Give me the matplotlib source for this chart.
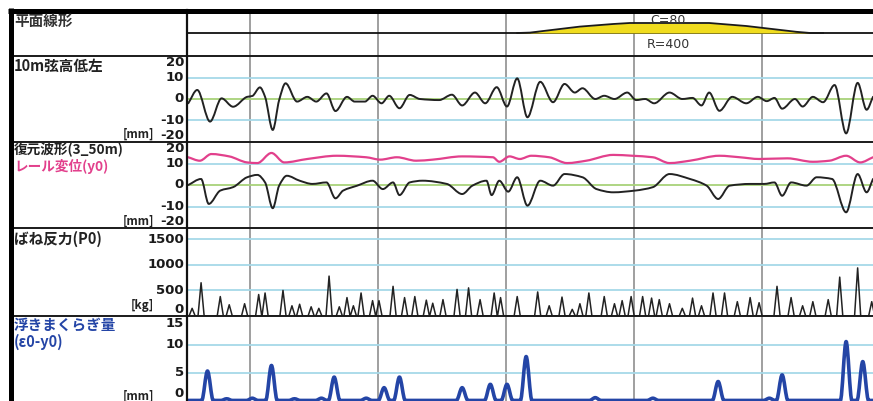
#!/usr/bin/env python3
"""
Track inspection chart: alignment, 10m chord, restored waveform,
spring reaction and floating sleeper amount along the line.
"""

import matplotlib
matplotlib.use("Agg")
import matplotlib.pyplot as plt
from matplotlib.path import Path
from matplotlib.patches import PathPatch
from matplotlib.transforms import blended_transform_factory

# ---- data (distance in m, grid every 100 m) ----
X_LIM = (-49, 487)
GRID_M = [0, 100, 200, 300, 400]

# plan alignment: curvature 1000/R
curve_x = [209, 219, 258, 284, 297, 359, 388, 427, 438, 448]
curve_k = [0, 0.1, 1.6, 2.25, 2.5, 2.5, 1.75, 0.3, 0, 0]

# 10m chord versine, left rail [mm]
chord_x = [-48, -41, -31, -22, -13, -2, 2, 8, 12, 18, 23, 28, 37, 45, 52, 60, 67,
           76, 82, 90, 96, 103, 109, 117, 125, 133, 148, 158, 166, 176, 184, 193,
           201, 209, 217, 227, 237, 246, 254, 260, 270, 277, 285, 295, 302, 309,
           316, 328, 338, 346, 353, 359, 367, 377, 388, 397, 404, 410, 416, 426,
           432, 440, 448, 457, 466, 475, 482, 487]
chord_mm = [-2, 4.2, -10.5, 0.3, -3.6, 1, 1.4, 5.4, 1, -14.4, -0.5, 7.3, -1.2, 1,
            -1.2, 2.6, -5.6, 1, -1.2, -1.2, 1.5, -2, 1.5, -4.3, 1.9, 0, -0.5, 2,
            -3, 3, -2, 5.5, -3.5, 9.6, -8.5, 8, -1.5, 7, 3, 5, 0, 1.5, 0, 3, -0.5,
            0, -2, 3, 0, 0.5, -3, 3, -5.5, 1, -2, 1, -1, 0.5, -4.5, 0, -3.5, 1,
            -1.5, 6.5, -16, 7.5, -5, 1]

# restored waveform (3-50m) [mm]
wave_x = [-48, -38, -32, -23, -13, -2, 6, 12, 18, 23, 29, 39, 49, 60, 67, 73, 84,
          96, 104, 112, 117, 125, 135, 154, 166, 174, 185, 189, 195, 202, 209,
          217, 227, 237, 246, 260, 271, 284, 301, 315, 328, 344, 357, 366, 375,
          391, 402, 410, 416, 423, 435, 443, 455, 466, 475, 482, 487]
wave_mm = [0, 2.8, -8.8, -2.6, -1, 3.6, 4.7, 1.2, -10.8, -0.3, 4.3, 2, 0.5, 1.2,
           -6.2, -2.6, -0.3, 2, -1.9, 1.2, -4.7, 1.2, 2, 0.5, -4.2, -0.3, 2, -4.7,
           2, -3.1, 3.6, -9.6, 2, -0.3, 5.1, 3.6, -1.9, -3.4, -2.6, -1, 5.1, 2.8,
           -0.3, -6.5, -0.3, 0.5, 0.5, 1.2, -5, 1.2, -0.3, 3.6, 2.8, -12.7, 5.1,
           -3.4, 2.8]

# rail displacement y0 [mm]
rail_x = [-48, -39, -30, -16, -2, 6, 17, 27, 45, 68, 91, 102, 115, 130, 143, 166,
          190, 195, 203, 211, 220, 234, 248, 263, 284, 299, 315, 328, 344, 367,
          383, 398, 420, 440, 453, 466, 477, 487]
rail_mm = [12.9, 11.3, 14.4, 13.3, 10.5, 10.2, 14.9, 10.5, 12.1, 13.6, 12.9, 11.8,
           12.9, 11.3, 11.8, 13.3, 12.9, 10.8, 13.3, 12.1, 13.6, 12.9, 10.2, 11.3,
           14, 13.6, 12.9, 10.2, 11.3, 13.6, 12.9, 12.1, 12.4, 10.8, 11.3, 13.6,
           10.5, 12.9]

# spring reaction P0 peaks [kg]
spring_x = [-45, -38, -23, -16, -4, 7, 12, 26, 33, 39, 48, 54, 62, 70, 76, 81, 87,
            96, 101, 112, 121, 129, 138, 143, 151, 162, 171, 180, 191, 196, 209,
            225, 234, 244, 252, 258, 265, 277, 285, 291, 298, 307, 314, 320, 328,
            338, 346, 353, 362, 371, 381, 391, 398, 412, 423, 432, 440, 452, 461,
            475, 486]
spring_kg = [150, 650, 380, 220, 240, 420, 450, 500, 200, 230, 180, 150, 780, 180,
             360, 200, 450, 300, 300, 580, 360, 380, 310, 250, 320, 520, 550, 320,
             450, 360, 380, 470, 200, 370, 130, 240, 450, 380, 240, 300, 380, 380,
             350, 320, 240, 150, 350, 200, 450, 450, 280, 360, 260, 580, 360, 200,
             280, 320, 760, 940, 280]

# floating sleeper amount (e0-y0) peaks [mm]
float_x = [-33, -18, 2, 17, 35, 56, 66, 91, 105, 117, 166, 188, 201, 216, 270,
           315, 366, 406, 416, 466, 479]
float_mm = [5.3, 0.3, 0.4, 6.3, 0.3, 0.4, 4.2, 0.4, 2.3, 4.2, 2.3, 2.9, 2.9, 7.9,
            0.5, 0.4, 3.4, 0.4, 4.6, 10.6, 7]

W, H = 873, 401
LEFT = 187
JP = ["Noto Sans CJK JP", "DejaVu Sans"]
NUM = ["Liberation Sans Narrow", "DejaVu Sans"]
LBLUE = "#a6d9e8"
GREEN = "#a8d27a"
VGRID = "#858585"


def pulses(xs, hs, half):
    px, py = [X_LIM[0]], [0]
    for c, h in zip(xs, hs):
        px += [c - half, c, c + half]
        py += [0, h, 0]
    px.append(X_LIM[1])
    py.append(0)
    return px, py


def smooth_path(xs, ys):
    """Bezier path through the points, flat at turning points (no overshoot)."""
    n = len(xs)
    sec = [(ys[i + 1] - ys[i]) / max(xs[i + 1] - xs[i], 1e-6) for i in range(n - 1)]
    tan = [0.0] * n
    tan[0], tan[-1] = sec[0], sec[-1]
    for i in range(1, n - 1):
        a, b = sec[i - 1], sec[i]
        tan[i] = 2 * a * b / (a + b) if a * b > 0 else 0.0
    verts = [(xs[0], ys[0])]
    codes = [Path.MOVETO]
    for i in range(n - 1):
        d = (xs[i + 1] - xs[i]) / 3
        verts += [(xs[i] + d, ys[i] + tan[i] * d),
                  (xs[i + 1] - d, ys[i + 1] - tan[i + 1] * d),
                  (xs[i + 1], ys[i + 1])]
        codes += [Path.CURVE4] * 3
    return Path(verts, codes)


def draw_smooth(ax, xs, ys, **kw):
    ax.add_patch(PathPatch(smooth_path(xs, ys), fill=False, capstyle="round",
                           joinstyle="round", **kw))


def main():
    fig = plt.figure(figsize=(W / 100, H / 100), dpi=100)
    fig.patch.set_facecolor("white")

    over = fig.add_axes([0, 0, 1, 1], zorder=10)
    over.set_xlim(0, W)
    over.set_ylim(H, 0)
    over.axis("off")

    def band(top, bottom, ylim):
        ax = fig.add_axes([LEFT / W, 1 - bottom / H, (W - LEFT) / W, (bottom - top) / H])
        ax.set_xlim(*X_LIM)
        ax.set_ylim(*ylim)
        ax.set_xticks([])
        ax.set_yticks([])
        for s in ax.spines.values():
            s.set_visible(False)
        for g in GRID_M:
            ax.axvline(g, color=VGRID, lw=1.1, zorder=1)
        return ax

    def ticks(ax, vals, top_val, bot_val):
        tr = blended_transform_factory(over.transData, ax.transData)
        for v in vals:
            va = "center"
            if v == top_val:
                va = "top"
            elif v == bot_val:
                va = "bottom"
            ax.text(184, v, f"{v}", transform=tr, ha="right", va=va,
                    fontsize=9.5, family=NUM, weight="bold", color="#1a1a1a",
                    clip_on=False)

    # row 1: plan alignment
    ax1 = band(12, 56, (-5.75, 5.25))
    ax1.axhline(0, color="#111111", lw=1.3, zorder=2)
    ax1.fill_between(curve_x, 0, curve_k, color="#f0dc1e", lw=0, zorder=3)
    ax1.plot(curve_x, curve_k, color="#1a1a1a", lw=1.3, zorder=4)
    ax1.text(327, 3.0, "C=80", ha="center", va="center", fontsize=9,
             family=NUM, color="#333333", zorder=5)
    ax1.text(327, -2.75, "R=400", ha="center", va="center", fontsize=9,
             family=NUM, color="#333333", zorder=5)

    # row 2: 10m chord
    ax2 = band(56, 142, (-20, 20))
    for v in (10, -10):
        ax2.axhline(v, color=LBLUE, lw=1.3, zorder=1)
    ax2.axhline(0, color=GREEN, lw=1.3, zorder=1)
    draw_smooth(ax2, chord_x, chord_mm, edgecolor="#222222", lw=1.4, zorder=3)
    ticks(ax2, [20, 10, 0, -10, -20], 20, -20)

    # row 3: restored waveform + rail displacement
    ax3 = band(142, 228, (-20, 20))
    for v in (10, -10):
        ax3.axhline(v, color=LBLUE, lw=1.3, zorder=1)
    ax3.axhline(0, color=GREEN, lw=1.3, zorder=1)
    draw_smooth(ax3, rail_x, rail_mm, edgecolor="#e2408c", lw=1.6, zorder=3)
    draw_smooth(ax3, wave_x, wave_mm, edgecolor="#222222", lw=1.4, zorder=3)
    ticks(ax3, [20, 10, 0, -10, -20], 20, -20)

    # row 4: spring reaction
    ax4 = band(228, 316, (0, 1720))
    for v in (500, 1000, 1500):
        ax4.axhline(v, color=LBLUE, lw=1.3, zorder=1)
    sx, sy = pulses(spring_x, spring_kg, 2.4)
    ax4.plot(sx, sy, color="#222222", lw=1.1, zorder=3)
    ticks(ax4, [1500, 1000, 500, 0], None, 0)

    # row 5: floating sleeper
    ax5 = band(316, 401, (-0.1, 15.2))
    for v in (5, 10):
        ax5.axhline(v, color=LBLUE, lw=1.3, zorder=1)
    fx, fy = pulses(float_x, float_mm, 4.5)
    draw_smooth(ax5, fx, fy, edgecolor="#2445a6", lw=2.6, zorder=3)
    ticks(ax5, [15, 10, 5, 0], 15, 0)

    # frame lines
    for y in (56, 142, 228, 316):
        over.plot([10, W], [y, y], color="#1a1a1a", lw=1.4)
    over.plot([LEFT, LEFT], [10, H], color="#111111", lw=1.6)
    over.plot([8, W], [10.5, 10.5], color="black", lw=3.6, solid_capstyle="butt")
    over.plot([10.5, 10.5], [8, H], color="black", lw=3.6, solid_capstyle="butt")

    # row labels
    lab = dict(family=JP, fontsize=10.5, weight="bold", ha="left", va="center")
    over.text(14, 21, "平面線形", color="#333333", **lab)
    over.text(14, 66, "10m弦高低左", color="#222222", **lab)
    lab_s = dict(lab, fontsize=9.8)
    over.text(14, 149, "復元波形(3_50m)", color="#222222", **lab_s)
    over.text(14, 166, "レール変位(y0)", color="#e2408c", **lab_s)
    over.text(14, 239, "ばね反力(P0)", color="#222222", **lab)
    over.text(14, 325, "浮きまくらぎ量", color="#2445a6", **lab)
    over.text(14, 342, "(ε0-y0)", color="#2445a6", **lab)

    unit = dict(family=JP, fontsize=8.5, weight="bold", ha="right", va="center",
                color="#222222")
    over.text(154, 134, "[mm]", **unit)
    over.text(154, 221, "[mm]", **unit)
    over.text(154, 305, "[kg]", **unit)
    over.text(154, 396, "[mm]", **unit)

    fig.savefig("out.png", dpi=100)
    plt.close(fig)


if __name__ == "__main__":
    main()
